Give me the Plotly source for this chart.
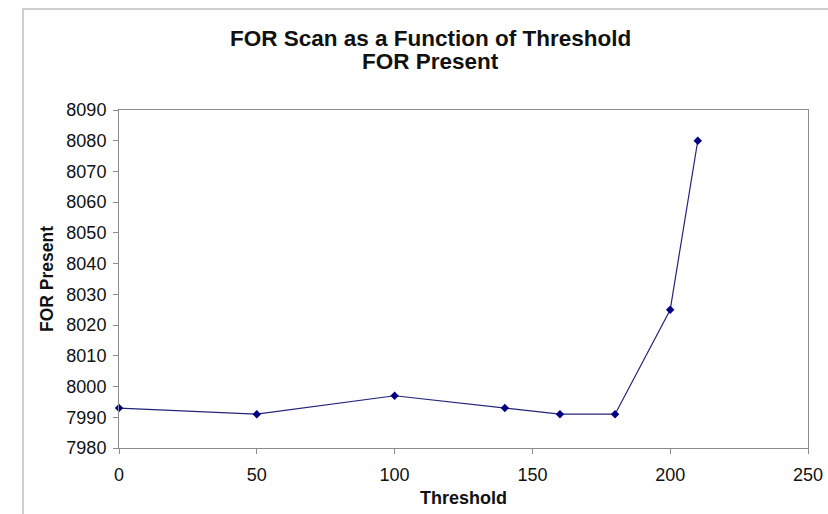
import plotly.graph_objects as go

# FOR scan results at each threshold setting
threshold = [0, 50, 100, 140, 160, 180, 200, 210]
for_present = [7993, 7991, 7997, 7993, 7991, 7991, 8025, 8080]

x_ticks = [0, 50, 100, 150, 200, 250]
y_ticks = list(range(7980, 8091, 10))

title_line1 = "FOR Scan as a Function of Threshold"
title_line2 = "FOR Present"
x_title = "Threshold"
y_title = "FOR Present"

FONT = "Liberation Sans, Arial, sans-serif"
W, H = 828, 514
L, R, T, B = 119, 20, 110, 66
pw, ph = W - L - R, H - T - B


def px_x(px):
    return (px - L) / pw


def px_y(py):
    return (H - B - py) / ph


fig = go.Figure()
fig.add_trace(go.Scatter(
    x=threshold, y=for_present, mode="lines+markers",
    line=dict(color="#23237a", width=1.2),
    marker=dict(symbol="diamond", size=6.5, color="#000080"),
    showlegend=False, cliponaxis=False,
))

axis_common = dict(
    showline=True, linecolor="#8c8c8c", linewidth=1, mirror=True,
    showgrid=False, zeroline=False, ticks="outside", ticklen=5,
    tickcolor="#8c8c8c", tickfont=dict(family=FONT, size=18, color="#111"),
)

fig.update_xaxes(range=[0, 250], tickvals=x_ticks, ticklabelstandoff=5,
                 title=dict(text=f"<b>{x_title}</b>", standoff=7,
                            font=dict(family=FONT, size=18, color="#111")),
                 **axis_common)
fig.update_yaxes(range=[7980, 8090], tickvals=y_ticks, ticklabelstandoff=3,
                 title=dict(text=f"<b>{y_title}</b>", standoff=8,
                            font=dict(family=FONT, size=17.5, color="#111")),
                 **axis_common)

# two-line chart title
for txt, py in [(title_line1, 38), (title_line2, 61)]:
    fig.add_annotation(text=f"<b>{txt}</b>", xref="paper", yref="paper",
                       x=px_x(430), y=px_y(py), xanchor="center", yanchor="middle",
                       showarrow=False, font=dict(family=FONT, size=22.5, color="#111"))

# chart area frame
fig.add_shape(type="rect", xref="paper", yref="paper",
              x0=px_x(23), x1=px_x(900), y0=px_y(600), y1=px_y(9),
              line=dict(color="#cfcfcf", width=2), fillcolor="rgba(0,0,0,0)",
              layer="below")

fig.update_layout(
    width=W, height=H, margin=dict(l=L, r=R, t=T, b=B, autoexpand=False),
    paper_bgcolor="white", plot_bgcolor="white",
    font=dict(family=FONT),
)

fig.write_html("out.html")
